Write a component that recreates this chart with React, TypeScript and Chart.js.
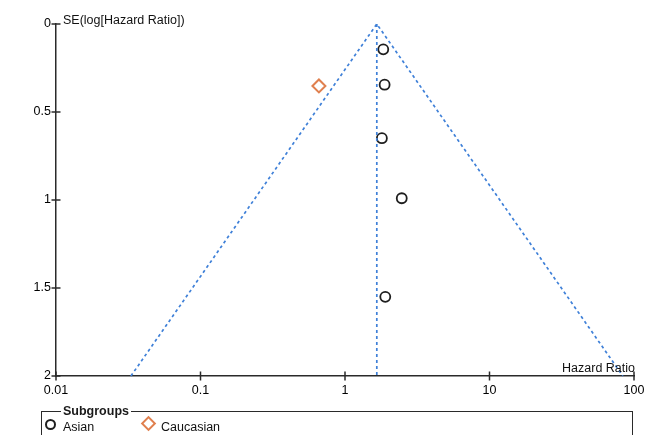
import React, { useEffect, useRef } from "react";
import { Chart, registerables } from "chart.js";

Chart.register(...registerables);

// Study estimates
const asianHR = [1.84, 1.88, 1.8, 2.47, 1.9];
const asianSE = [0.144, 0.345, 0.649, 0.99, 1.55];
const caucasianHR = [0.66];
const caucasianSE = [0.352];

// Funnel (pooled estimate with 95% pseudo-confidence limits)
const funnelHR = [0.033, 1.66, 83.7];
const funnelSE = [2, 0, 2];
const pooledLineHR = [1.66, 1.66];
const pooledLineSE = [0, 2];

// Axis ticks
const xTicks = [0.01, 0.1, 1, 10, 100];
const xTickLabels = ["0.01", "0.1", "1", "10", "100"];
const yTicks = [0, 0.5, 1, 1.5, 2];
const yTickLabels = ["0", "0.5", "1", "1.5", "2"];

const FONT = "'Liberation Sans', Arial, sans-serif";
const BLUE = "#3f80d8";
const ORANGE = "#e0804f";
const AXIS = "#2a2a2a";

const decorPlugin = {
  id: "decor",
  afterDraw(chart: any) {
    const { ctx, chartArea } = chart;
    const xs = chart.scales.x;
    const ys = chart.scales.y;
    ctx.save();
    ctx.strokeStyle = AXIS;
    ctx.lineWidth = 1.5;
    // crossing tick marks
    yTicks.forEach((v) => {
      const py = ys.getPixelForValue(v);
      ctx.beginPath();
      ctx.moveTo(chartArea.left - 4.5, py);
      ctx.lineTo(chartArea.left + 4.5, py);
      ctx.stroke();
    });
    xTicks.forEach((v) => {
      const px = xs.getPixelForValue(v);
      ctx.beginPath();
      ctx.moveTo(px, chartArea.bottom - 4.5);
      ctx.lineTo(px, chartArea.bottom + 4.5);
      ctx.stroke();
    });
    // axis titles
    ctx.fillStyle = "#111";
    ctx.font = `12.5px ${FONT}`;
    ctx.textBaseline = "alphabetic";
    ctx.textAlign = "left";
    ctx.fillText("SE(log[Hazard Ratio])", chartArea.left + 7, chartArea.top);
    ctx.textAlign = "right";
    ctx.fillText("Hazard Ratio", chartArea.right + 1, chartArea.bottom - 4);
    ctx.restore();
  },
};

export default function App() {
  const canvasRef = useRef<HTMLCanvasElement | null>(null);

  useEffect(() => {
    if (!canvasRef.current) return;
    const chart = new Chart(canvasRef.current, {
      type: "scatter",
      data: {
        datasets: [
          {
            label: "Funnel",
            type: "line",
            data: funnelHR.map((x, i) => ({ x, y: funnelSE[i] })),
            borderColor: BLUE,
            borderWidth: 1.7,
            borderDash: [3, 3],
            pointRadius: 0,
            fill: false,
            tension: 0,
          },
          {
            label: "Pooled",
            type: "line",
            data: pooledLineHR.map((x, i) => ({ x, y: pooledLineSE[i] })),
            borderColor: BLUE,
            borderWidth: 1.7,
            borderDash: [3, 3],
            pointRadius: 0,
            fill: false,
          },
          {
            label: "Asian",
            data: asianHR.map((x, i) => ({ x, y: asianSE[i] })),
            pointStyle: "circle",
            pointRadius: 5,
            borderColor: "#1e1e1e",
            borderWidth: 1.8,
            backgroundColor: "rgba(0,0,0,0)",
          },
          {
            label: "Caucasian",
            data: caucasianHR.map((x, i) => ({ x, y: caucasianSE[i] })),
            pointStyle: "rectRot",
            pointRadius: 6.5,
            borderColor: ORANGE,
            borderWidth: 2,
            backgroundColor: "rgba(0,0,0,0)",
          },
        ],
      },
      options: {
        animation: false,
        responsive: false,
        maintainAspectRatio: false,
        clip: false as any,
        layout: { padding: { left: 0, right: 31, top: 24, bottom: 0 } },
        plugins: {
          legend: { display: false },
          tooltip: { enabled: false },
        },
        scales: {
          x: {
            type: "logarithmic",
            min: 0.01,
            max: 100,
            afterBuildTicks: (scale: any) => {
              scale.ticks = xTicks.map((v) => ({ value: v }));
            },
            afterFit: (scale: any) => {
              scale.height = 59;
            },
            ticks: {
              autoSkip: false,
              maxRotation: 0,
              padding: 7,
              color: "#000",
              font: { family: FONT, size: 12.5 },
              callback: (v: any) => {
                const i = xTicks.indexOf(Number(v));
                return i >= 0 ? xTickLabels[i] : "";
              },
            },
            grid: { display: false, drawTicks: false },
            border: { display: true, color: AXIS, width: 1.5 },
          },
          y: {
            type: "linear",
            reverse: true,
            min: 0,
            max: 2,
            afterBuildTicks: (scale: any) => {
              scale.ticks = yTicks.map((v) => ({ value: v }));
            },
            afterFit: (scale: any) => {
              scale.width = 56;
            },
            ticks: {
              padding: 5,
              color: "#000",
              font: { family: FONT, size: 12.5 },
              callback: (v: any) => {
                const i = yTicks.indexOf(Number(v));
                return i >= 0 ? yTickLabels[i] : "";
              },
            },
            grid: { display: false, drawTicks: false },
            border: { display: true, color: AXIS, width: 1.5 },
          },
        },
      },
      plugins: [decorPlugin],
    });
    return () => chart.destroy();
  }, []);

  return (
    <div
      style={{
        position: "absolute",
        left: 0,
        top: 0,
        width: 665,
        height: 435,
        overflow: "hidden",
        background: "#fff",
        fontFamily: FONT,
      }}
    >
      <canvas
        ref={canvasRef}
        width={665}
        height={435}
        style={{ position: "absolute", left: 0, top: 0, width: 665, height: 435 }}
      />
      <div
        style={{
          position: "absolute",
          left: 41,
          top: 411,
          width: 592,
          height: 40,
          border: `1.5px solid ${AXIS}`,
          boxSizing: "border-box",
        }}
      />
      <div
        style={{
          position: "absolute",
          left: 61,
          top: 403,
          padding: "0 2px",
          background: "#fff",
          fontSize: 12.5,
          fontWeight: "bold",
          color: "#1a1a1a",
          lineHeight: "16px",
        }}
      >
        Subgroups
      </div>
      <div
        style={{
          position: "absolute",
          left: 45,
          top: 419,
          width: 11,
          height: 11,
          borderRadius: "50%",
          border: "2px solid #1e1e1e",
          boxSizing: "border-box",
        }}
      />
      <div
        style={{
          position: "absolute",
          left: 63,
          top: 420,
          fontSize: 12.5,
          color: "#111",
          lineHeight: "15px",
        }}
      >
        Asian
      </div>
      <div
        style={{
          position: "absolute",
          left: 143,
          top: 418,
          width: 11,
          height: 11,
          transform: "rotate(45deg)",
          border: `2px solid ${ORANGE}`,
          boxSizing: "border-box",
        }}
      />
      <div
        style={{
          position: "absolute",
          left: 161,
          top: 420,
          fontSize: 12.5,
          color: "#111",
          lineHeight: "15px",
        }}
      >
        Caucasian
      </div>
    </div>
  );
}
